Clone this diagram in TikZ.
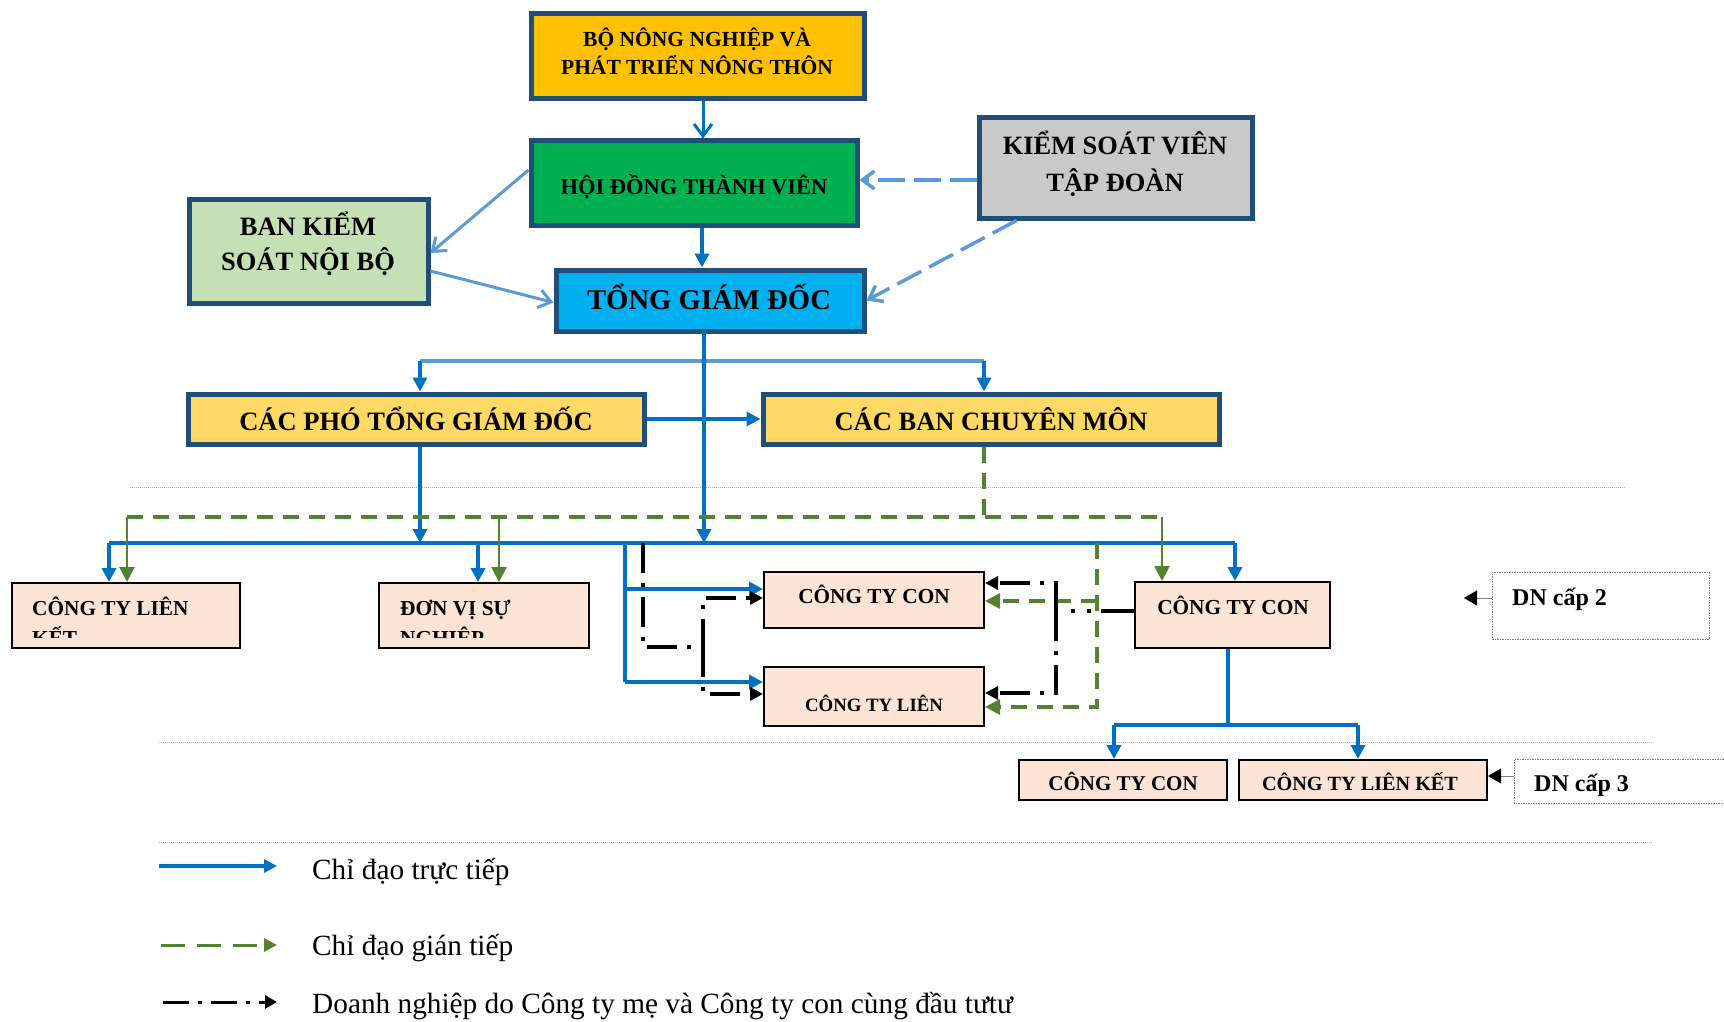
\documentclass[tikz,border=0pt]{standalone}
\usepackage{fontspec}
\setmainfont{Liberation Serif}
\usetikzlibrary{arrows.meta,calc}
\definecolor{bdr}{HTML}{1F4E79}
\definecolor{dblue}{HTML}{0070C0}
\definecolor{lblue}{HTML}{5B9BD5}
\definecolor{gline}{HTML}{548235}
\definecolor{cbnn}{HTML}{FFC000}
\definecolor{chdtv}{HTML}{00B050}
\definecolor{ctgd}{HTML}{00B0F0}
\definecolor{cksv}{HTML}{C9C9C9}
\definecolor{cbks}{HTML}{C5E0B4}
\definecolor{cpho}{HTML}{FFD966}
\definecolor{cpeach}{HTML}{FBE3D6}
\definecolor{sepc}{HTML}{A9C18F}
\newcommand\fsz[1]{\fontsize{#1}{#1}\selectfont}
\tikzset{
  topbox/.style={draw=bdr, line width=5pt, inner sep=0pt},
  lowbox/.style={draw=black, line width=2pt, fill=cpeach, inner sep=0pt},
  txt/.style={inner sep=0pt, anchor=base},
  ltxt/.style={inner sep=0pt, anchor=base west},
  bl/.style={draw=dblue, line width=3.5pt},
  btip/.style={-{Triangle[length=14pt,width=14pt]}},
  ktip/.style={-{Triangle[length=13pt,width=13pt]}},
  gtip/.style={-{Triangle[length=15pt,width=15pt]}},
  otip/.style={-{Straight Barb[length=12pt,width=18pt]}},
  lb/.style={draw=lblue, line width=3pt},
  lbdash/.style={draw=lblue, line width=3.5pt, dash pattern=on 27pt off 9pt},
  gdash/.style={draw=gline, line width=3.2pt, dash pattern=on 16pt off 10pt},
  gsolid/.style={draw=gline, line width=2.5pt},
  kdash/.style={draw=black, line width=3.5pt, dash pattern=on 30pt off 10pt on 4pt off 10pt},
  sepline/.style={draw=sepc, line width=1pt, dash pattern=on 1pt off 1pt},
  dnbox/.style={draw=gray, line width=1pt, dash pattern=on 1.5pt off 1pt},
  hb/.style={font=\bfseries\fsz{#1}},
}
\begin{document}
\begin{tikzpicture}[x=1pt,y=-1pt]
\useasboundingbox (0,0) rectangle (1724,1022);
\fill[white] (0,0) rectangle (1724,1022);

% separators
\draw[sepline] (130,487) -- (1625,487);
\draw[sepline] (159,742) -- (1653,742);
\draw[sepline] (159,842) -- (1653,842);

% top boxes
\node[topbox, fill=cbnn, minimum width=333pt, minimum height=85pt] (bnn) at (697.5,56.5) {};
\node[topbox, fill=chdtv, minimum width=326pt, minimum height=84pt] (hdtv) at (694,183) {};
\node[topbox, fill=cksv, minimum width=273pt, minimum height=100pt] (ksv) at (1115.5,168) {};
\node[topbox, fill=cbks, minimum width=239pt, minimum height=104pt] (bks) at (308.5,251) {};
\node[topbox, fill=ctgd, minimum width=308pt, minimum height=61pt] (tgd) at (710,300.5) {};
\node[topbox, fill=cpho, minimum width=456pt, minimum height=50pt] (pho) at (416,419) {};
\node[topbox, fill=cpho, minimum width=456pt, minimum height=50pt] (cbcm) at (991,419) {};

\node[txt, hb=21.5] (bnn1) at (697,47) {BỘ NÔNG NGHIỆP VÀ};
\node[txt, hb=21.5] (bnn2) at (697,75) {PHÁT TRIỂN NÔNG THÔN};
\node[txt, hb=22.5] (hdtv1) at (694,194) {HỘI ĐỒNG THÀNH VIÊN};
\node[txt, hb=26.4] (ksv1) at (1115,154) {KIỂM SOÁT VIÊN};
\node[txt, hb=26.4] (ksv2) at (1115,191) {TẬP ĐOÀN};
\node[txt, hb=26.5] (bks1) at (308,235) {BAN KIỂM};
\node[txt, hb=26.5] (bks2) at (308,270) {SOÁT NỘI BỘ};
\node[txt, hb=28.7] (tgd1) at (709,309) {TỔNG GIÁM ĐỐC};
\node[txt, hb=26.5] (pho1) at (416,430) {CÁC PHÓ TỔNG GIÁM ĐỐC};
\node[txt, hb=26.5] (cbcm1) at (991,430) {CÁC BAN CHUYÊN MÔN};

% lower boxes
\node[lowbox, minimum width=228pt, minimum height=65pt] (ctlk) at (126,615.5) {};
\node[lowbox, minimum width=210pt, minimum height=65pt] (dvsn) at (484,615.5) {};
\node[lowbox, minimum width=220pt, minimum height=56pt] (ctc) at (874,600) {};
\node[lowbox, minimum width=220pt, minimum height=59pt] (ctl) at (874,696.5) {};
\node[lowbox, minimum width=195pt, minimum height=66pt] (ctcr) at (1232.5,615) {};
\node[lowbox, minimum width=208pt, minimum height=40pt] (lv3a) at (1123,780) {};
\node[lowbox, minimum width=248pt, minimum height=40pt] (lv3b) at (1363,780) {};

\node[ltxt, hb=21.3] (ctlk1) at (32,615) {CÔNG TY LIÊN};
\node[ltxt, hb=21.3] (dvsn1) at (400,615) {ĐƠN VỊ SỰ};
\begin{scope}
  \clip (14,600) rectangle (586,637);
  \node[ltxt, hb=21.3] (ctlk2) at (32,645) {KẾT};
  \node[ltxt, hb=21.3] (dvsn2) at (400,645) {NGHIỆP};
\end{scope}
\node[txt, hb=21.3] (ctc1) at (874,603) {CÔNG TY CON};
\node[txt, hb=18.8] (ctl1) at (874,711) {CÔNG TY LIÊN};
\node[txt, hb=21.3] (ctcr1) at (1233,614) {CÔNG TY CON};
\node[txt, hb=21] (lv3a1) at (1123,790) {CÔNG TY CON};
\node[txt, hb=20.2] (lv3b1) at (1360,790) {CÔNG TY LIÊN KẾT};

% DN boxes
\node[dnbox, minimum width=217pt, minimum height=67pt, inner sep=0pt] (dn2) at (1600.5,605.5) {};
\node[ltxt, hb=24] (dn2t) at (1512,605) {DN cấp 2};
\draw[dnbox] (1726,759) -- (1514,759) -- (1514,803) -- (1726,803);
\coordinate (dn3w) at (1514,776);
\node[ltxt, hb=24] (dn3t) at (1534,791) {DN cấp 3};
\coordinate (dn2tip) at (1464,598);
\coordinate (dn3tip) at (1488,776);
\draw[draw=gray, line width=1pt, -{Triangle[length=13pt,width=15pt,color=black]}] (dn2.west |- dn2tip) -- (dn2tip);
\draw[draw=gray, line width=1pt, -{Triangle[length=13pt,width=15pt,color=black]}] (dn3w) -- (dn3tip);

% top connectors
\coordinate (a1) at ($(bnn.south)+(5.5,0)$);
\draw[draw=dblue, line width=3pt, otip] (a1) -- (a1 |- hdtv.north);
\coordinate (a2) at ($(hdtv.south)+(8,0)$);
\draw[bl, btip] (a2) -- (a2 |- tgd.north);
\draw[lb, otip] ($(hdtv.west)+(0,-13)$) -- ($(bks.east)+(0,2)$);
\draw[lb, otip] ($(bks.east)+(0,20)$) -- ($(tgd.west)+(0,2)$);
\draw[lbdash, otip] ($(ksv.west)+(0,12)$) -- ($(hdtv.east)+(0,-3)$);
\draw[lbdash, otip] ($(ksv.south west)+(40,0)$) -- ($(tgd.east)+(0,0)$);

% TGD distribution
\coordinate (d1) at (420,361);
\coordinate (d2) at (984,361);
\draw[draw=lblue, line width=3.5pt] (d1) -- (d2);
\draw[bl, btip] (d1) -- (d1 |- pho.north);
\draw[bl, btip] (d2) -- (d2 |- cbcm.north);
\draw[bl, btip] (pho.east) -- (cbcm.west);

% bus
\coordinate (busL) at (109,543);
\coordinate (busR) at (1235,543);
\draw[bl] (busL) -- (busR);
\coordinate (t1) at (704,331);
\draw[bl, btip] (t1) -- (t1 |- busL);
\draw[bl, btip] (d1 |- pho.south) -- (d1 |- busL);
\draw[bl, btip] (busL) -- (busL |- ctlk.north);
\coordinate (b2) at (478,543);
\draw[bl, btip] (b2) -- (b2 |- dvsn.north);
\draw[bl, btip] (busR) -- (busR |- ctcr.north);
\coordinate (bv) at (625,543);
\coordinate (bv1) at (625,589);
\coordinate (bv2) at (625,682);
\draw[bl] (bv) -- (bv2);
\draw[bl, btip] (bv1) -- (bv1 -| ctc.west);
\draw[bl, btip] (bv2) -- (bv2 -| ctl.west);

% level 3
\coordinate (r0) at (1228,725);
\coordinate (r1) at (1114,725);
\coordinate (r2) at (1358,725);
\draw[bl] (r0 |- ctcr.south) -- (r0);
\draw[bl] (r1) -- (r2);
\draw[bl, btip] (r1) -- (r1 |- lv3a.north);
\draw[bl, btip] (r2) -- (r2 |- lv3b.north);

% green indirect
\coordinate (gL) at (127,517);
\coordinate (gM) at (499,517);
\coordinate (gR) at (1162,517);
\coordinate (gT) at (984,517);
\draw[gdash] (gT |- cbcm.south) -- (gT);
\draw[gdash] (gL) -- (gR);
\draw[gsolid, gtip] (gL) -- (gL |- ctlk.north);
\draw[gsolid, gtip] (gM) -- (gM |- dvsn.north);
\draw[gsolid, gtip] (gR) -- (gR |- ctcr.north);
\coordinate (g2) at (1097,543);
\coordinate (g2a) at (1097,601);
\coordinate (g2b) at (1097,707);
\draw[gdash, gtip] (g2) -- (g2b) -- (g2b -| ctl.east);
\draw[gdash, gtip] (g2a) -- (g2a -| ctc.east);

% black dash-dot
\coordinate (k0) at (643,543);
\coordinate (k1) at (643,647);
\coordinate (k2) at (703,647);
\coordinate (k3) at (703,598);
\coordinate (k4) at (703,694);
\draw[kdash, ktip] (k0) -- (k1) -- (k2) -- (k3) -- (k3 -| ctc.west);
\draw[kdash, ktip] (k2) -- (k4) -- (k4 -| ctl.west);
\coordinate (m0) at (1056,611);
\coordinate (m1) at (1056,583);
\coordinate (m2) at (1056,693);
\draw[draw=black, line width=3.5pt, dash pattern=on 33pt off 10pt on 4pt off 12pt on 4pt off 30pt] (ctcr.west |- m0) -- (m0);
\draw[kdash, ktip] (m0) -- (m1) -- (m1 -| ctc.east);
\draw[kdash, ktip] (m0) -- (m2) -- (m2 -| ctl.east);

% legend
\coordinate (la1) at (159,866); \coordinate (la2) at (277,866);
\coordinate (lb1) at (161,945); \coordinate (lb2) at (277,945);
\coordinate (lc1) at (163,1002); \coordinate (lc2) at (277,1002);
\draw[bl, -{Triangle[length=13pt,width=13pt]}] (la1) -- (la2);
\draw[draw=gline, line width=3pt, dash pattern=on 24pt off 12pt, -{Triangle[length=13pt,width=13pt]}] (lb1) -- (lb2);
\draw[draw=black, line width=3pt, dash pattern=on 26pt off 9pt on 4pt off 9pt, -{Triangle[length=12pt,width=13pt]}] (lc1) -- (lc2);
\node[ltxt, font=\fsz{29.3}] (leg1) at (312,879) {Chỉ đạo trực tiếp};
\node[ltxt, font=\fsz{29.3}] (leg2) at (312,955) {Chỉ đạo gián tiếp};
\node[ltxt, font=\fsz{29.3}] (leg3) at (312,1013) {Doanh nghiệp do Công ty mẹ và Công ty con cùng đầu tưtư};
\end{tikzpicture}
\end{document}
